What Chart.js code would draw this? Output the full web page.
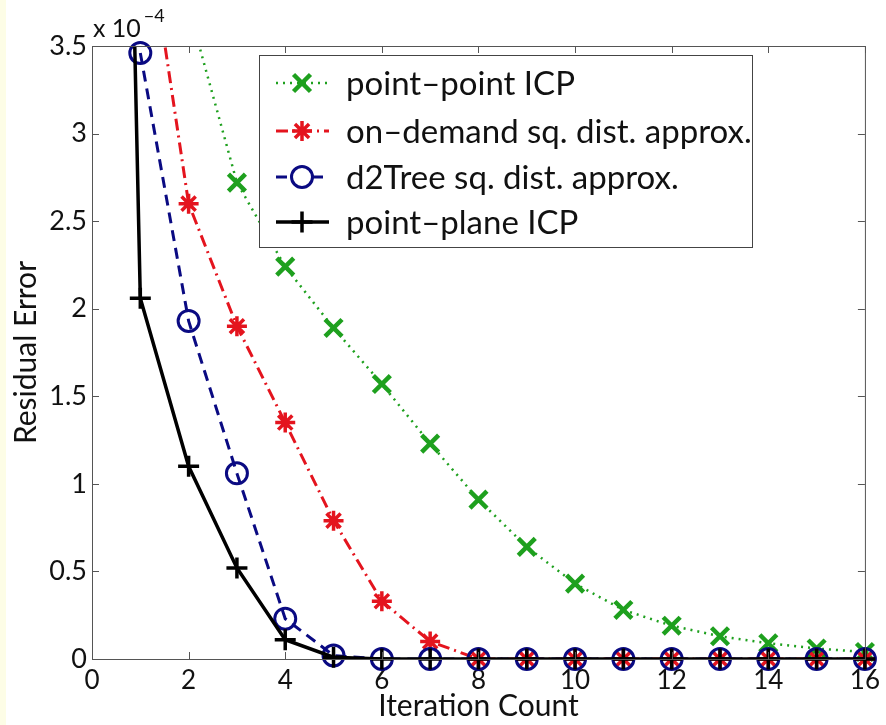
<!DOCTYPE html>
<html>
<head>
<meta charset="utf-8">
<script src="https://cdn.jsdelivr.net/npm/chart.js@4/dist/chart.umd.min.js"></script>
<style>
    html, body { margin: 0; padding: 0; }
    body { background: linear-gradient(to right, #fdfde6 0, #fdfde6 6px, #ffffff 6px); }
    #wrap { position: relative; width: 886px; height: 725px; }
</style>
</head>
<body>
<div id="wrap"><canvas id="myChart" width="886" height="725"></canvas></div>
<script>
// residual error (x 10^-4) per iteration
const pointPointX = [1, 2, 3, 4, 5, 6, 7, 8, 9, 10, 11, 12, 13, 14, 15, 16];
const pointPointY = [5.0, 3.72, 2.72, 2.24, 1.89, 1.57, 1.23, 0.91, 0.64, 0.43, 0.28, 0.19, 0.13, 0.09, 0.06, 0.04];

const onDemandX = [1, 2, 3, 4, 5, 6, 7, 8, 9, 10, 11, 12, 13, 14, 15, 16];
const onDemandY = [4.44, 2.60, 1.90, 1.35, 0.79, 0.33, 0.10, 0, 0, 0, 0, 0, 0, 0, 0, 0];

const d2TreeX = [1, 2, 3, 4, 5, 6, 7, 8, 9, 10, 11, 12, 13, 14, 15, 16];
const d2TreeY = [3.46, 1.93, 1.06, 0.23, 0.02, 0, 0, 0, 0, 0, 0, 0, 0, 0, 0, 0];

const pointPlaneX = [0, 1, 2, 3, 4, 5, 6, 7, 8, 9, 10, 11, 12, 13, 14, 15, 16];
const pointPlaneY = [14.6, 2.06, 1.10, 0.52, 0.11, 0.01, 0, 0, 0, 0, 0, 0, 0, 0, 0, 0, 0];

const xTicks = [0, 2, 4, 6, 8, 10, 12, 14, 16];
const yTicks = [0, 0.5, 1, 1.5, 2, 2.5, 3, 3.5];
const yMax = 3.5;

const FONT = 'Lato, "Open Sans", sans-serif';

const series = [
    { label: 'point\u2013point ICP', xs: pointPointX, ys: pointPointY, color: 'rgb(30,160,30)',
      dash: [2, 5], width: 2.5, marker: 'crossRot', radius: 12, markerWidth: 4.5 },
    { label: 'on\u2013demand sq. dist. approx.', xs: onDemandX, ys: onDemandY, color: 'rgb(228,20,30)',
      dash: [12, 5, 2, 5], width: 3, marker: 'star', radius: 10, markerWidth: 3.5 },
    { label: 'd2Tree sq. dist. approx.', xs: d2TreeX, ys: d2TreeY, color: 'rgb(10,10,130)',
      dash: [11, 7], width: 3, marker: 'circle', radius: 10.5, markerWidth: 3 },
    { label: 'point\u2013plane ICP', xs: pointPlaneX, ys: pointPlaneY, color: 'rgb(0,0,0)',
      dash: [], width: 3.5, marker: 'cross', radius: 10.5, markerWidth: 3.5 }
];

function toPoints(xs, ys) {
    return xs.map((x, i) => ({ x: x, y: ys[i] }));
}

// each series: one line dataset (clipped to the box) and one marker dataset (not clipped)
const datasets = [];
series.slice().reverse().forEach(s => {
    datasets.push({
        label: s.label + ' markers',
        data: toPoints(s.xs, s.ys).filter(p => p.y <= yMax),
        showLine: false,
        pointStyle: s.marker,
        pointRadius: s.radius,
        pointBorderWidth: s.markerWidth,
        pointBorderColor: s.color,
        pointBackgroundColor: 'rgba(0,0,0,0)',
        clip: false
    });
    datasets.push({
        label: s.label,
        data: toPoints(s.xs, s.ys),
        borderColor: s.color,
        borderWidth: s.width,
        borderDash: s.dash,
        pointRadius: 0,
        tension: 0,
        clip: 0
    });
});

const boxPlugin = {
    id: 'matlabBox',
    afterDraw(chart) {
        const ctx = chart.ctx;
        const a = chart.chartArea;
        const xs = chart.scales.x, ys = chart.scales.y;
        ctx.save();
        ctx.strokeStyle = '#555';
        ctx.lineWidth = 1;
        ctx.setLineDash([]);
        ctx.strokeRect(a.left + 0.5, a.top + 0.5, a.right - a.left, a.bottom - a.top);
        ctx.beginPath();
        xTicks.forEach(v => {
            const px = Math.round(xs.getPixelForValue(v)) + 0.5;
            ctx.moveTo(px, a.bottom); ctx.lineTo(px, a.bottom - 7);
            ctx.moveTo(px, a.top); ctx.lineTo(px, a.top + 7);
        });
        yTicks.forEach(v => {
            const py = Math.round(ys.getPixelForValue(v)) + 0.5;
            ctx.moveTo(a.left, py); ctx.lineTo(a.left + 7, py);
            ctx.moveTo(a.right, py); ctx.lineTo(a.right - 7, py);
        });
        ctx.stroke();

        // exponent label
        ctx.fillStyle = '#111';
        ctx.textBaseline = 'alphabetic';
        ctx.textAlign = 'left';
        ctx.font = '25px ' + FONT;
        ctx.fillText('x 10', a.left + 1, a.top - 9);
        const w = ctx.measureText('x 10').width;
        ctx.font = '18px ' + FONT;
        ctx.fillText('\u22124', a.left + 4 + w, a.top - 24);

        // legend
        const lx = 259, ly = 55, lw = 493, lh = 192;
        ctx.fillStyle = '#fff';
        ctx.fillRect(lx, ly, lw, lh);
        ctx.strokeStyle = '#444';
        ctx.lineWidth = 1;
        ctx.strokeRect(lx + 0.5, ly + 0.5, lw, lh);
        const rows = [83, 131, 177, 222];
        series.forEach((s, i) => {
            const y = rows[i];
            ctx.strokeStyle = s.color;
            ctx.lineWidth = s.width;
            ctx.setLineDash(s.dash);
            ctx.beginPath();
            ctx.moveTo(276, y); ctx.lineTo(329, y);
            ctx.stroke();
            ctx.setLineDash([]);
            ctx.fillStyle = '#fff';
            ctx.lineWidth = s.markerWidth;
            Chart.helpers.drawPoint(ctx, {
                pointStyle: s.marker, radius: s.radius, borderWidth: s.markerWidth,
                rotation: 0
            }, 302, y);
            ctx.fillStyle = '#111';
            ctx.font = '33px ' + FONT;
            ctx.textBaseline = 'middle';
            ctx.fillText(s.label, 346, y + 1);
        });
        ctx.restore();
    }
};

const config = {
    type: 'line',
    data: { datasets: datasets },
    options: {
        responsive: false,
        animation: false,
        events: [],
        layout: { padding: { top: 46, right: 15, left: 0, bottom: 0 } },
        plugins: {
            legend: { display: false },
            tooltip: { enabled: false }
        },
        scales: {
            x: {
                type: 'linear',
                min: 0,
                max: 16,
                afterFit: s => { s.height = 66; },
                afterBuildTicks: s => { s.ticks = xTicks.map(v => ({ value: v })); },
                grid: { display: false, drawTicks: false },
                border: { display: false },
                ticks: { color: '#111', padding: 6, font: { family: FONT, size: 26 },
                         callback: v => String(v) },
                title: {
                    display: true,
                    text: 'Iteration Count',
                    color: '#111',
                    padding: { top: 0, bottom: 1 },
                    font: { family: FONT, size: 30 }
                }
            },
            y: {
                type: 'linear',
                min: 0,
                max: yMax,
                afterFit: s => { s.width = 92; },
                afterBuildTicks: s => { s.ticks = yTicks.map(v => ({ value: v })); },
                grid: { display: false, drawTicks: false },
                border: { display: false },
                ticks: { color: '#111', padding: 5, font: { family: FONT, size: 27 },
                         callback: v => String(v) },
                title: {
                    display: true,
                    text: 'Residual Error',
                    color: '#111',
                    padding: { top: 8, bottom: 0 },
                    font: { family: FONT, size: 30 }
                }
            }
        }
    },
    plugins: [boxPlugin]
};

myChart = new Chart(document.getElementById('myChart'), config);
</script>
</body>
</html>
